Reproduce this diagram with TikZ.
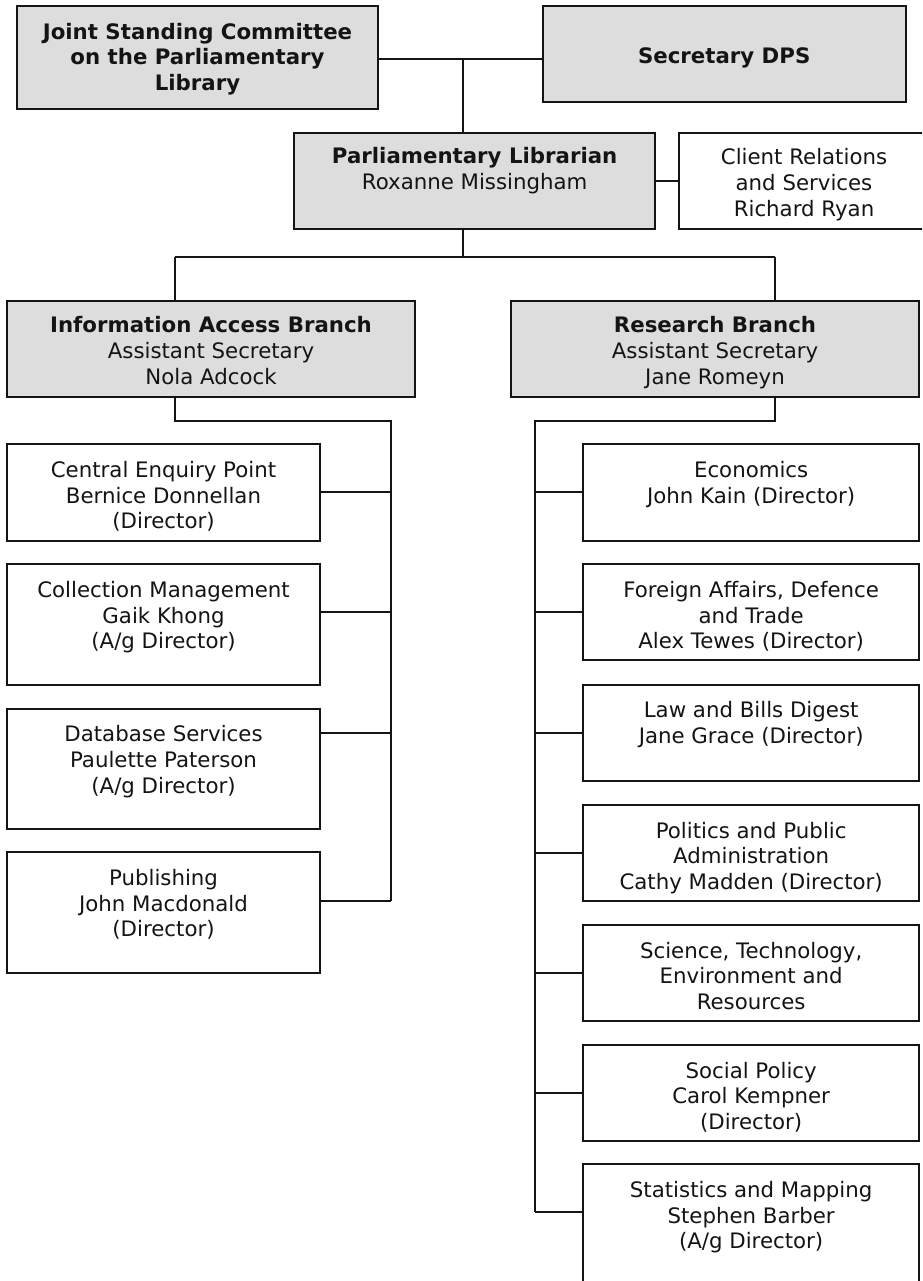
\documentclass[tikz,border=0pt]{standalone}
\usepackage{fontspec}
\setmainfont{DejaVu Sans}
\usetikzlibrary{calc}
\definecolor{boxfill}{RGB}{221,221,221}
\definecolor{ink}{RGB}{20,20,20}
\begin{document}
\begin{tikzpicture}[x=1pt,y=-1pt,
  box/.style={draw=ink, line width=2pt, inner sep=0pt, outer sep=0pt, rectangle},
  gbox/.style={box, fill=boxfill},
  wbox/.style={box, fill=white},
  txt/.style={anchor=base, align=center, inner sep=0pt, text=ink, font=\fontsize{21.3}{25.7}\selectfont},
  link/.style={draw=ink, line width=2pt}
]
\path[use as bounding box] (0,0) rectangle (922,1281);
\clip (0,0) rectangle (922,1281);

% ---- top level boxes
\node[gbox, minimum width=361pt, minimum height=102.7pt] (joint) at (197.5,57.35) {};
\node[gbox, minimum width=363pt, minimum height=95.7pt] (sec) at (724.2,53.85) {};
\node[gbox, minimum width=360.7pt, minimum height=96pt] (pl) at (474.65,180.7) {};
\node[wbox, minimum width=250pt, minimum height=96pt] (client) at (804,180.7) {};
\node[gbox, minimum width=408pt, minimum height=96pt] (info) at (211,348.7) {};
\node[gbox, minimum width=408.6pt, minimum height=96pt] (res) at (715,348.7) {};

% ---- left column
\node[wbox, minimum width=313pt, minimum height=96.7pt] (cep) at (163.5,492.35) {};
\node[wbox, minimum width=313pt, minimum height=120.4pt] (col) at (163.5,624.5) {};
\node[wbox, minimum width=313pt, minimum height=120pt] (db) at (163.5,768.7) {};
\node[wbox, minimum width=313pt, minimum height=120.4pt] (pub) at (163.5,912.5) {};

% ---- right column
\node[wbox, minimum width=336.3pt, minimum height=96.7pt] (econ) at (751.15,492.35) {};
\node[wbox, minimum width=336.3pt, minimum height=96pt] (fa) at (751.15,612.3) {};
\node[wbox, minimum width=336.3pt, minimum height=96pt] (law) at (751.15,732.5) {};
\node[wbox, minimum width=336.3pt, minimum height=96pt] (pol) at (751.15,852.85) {};
\node[wbox, minimum width=336.3pt, minimum height=96pt] (sci) at (751.15,972.85) {};
\node[wbox, minimum width=336.3pt, minimum height=96pt] (soc) at (751.15,1092.85) {};
\node[wbox, minimum width=336.3pt, minimum height=120pt] (stat) at (751.15,1224.3) {};

% ---- texts (anchor = baseline of the last line)
\node[txt] (joint-t) at (197.5,90.7) {\textbf{Joint Standing Committee}\\\textbf{on the Parliamentary}\\\textbf{Library}};
\node[txt] (sec-t) at (724.2,63.3) {\textbf{Secretary DPS}};
\node[txt] (pl-t) at (474.65,189.7) {\textbf{Parliamentary Librarian}\\Roxanne Missingham};
\node[txt] (client-t) at (804,216.4) {Client Relations\\and Services\\Richard Ryan};
\node[txt] (info-t) at (211,384.1) {\textbf{Information Access Branch}\\Assistant Secretary\\Nola Adcock};
\node[txt] (res-t) at (715,384.1) {\textbf{Research Branch}\\Assistant Secretary\\Jane Romeyn};
\node[txt] (cep-t) at (163.5,528.7) {Central Enquiry Point\\Bernice Donnellan\\(Director)};
\node[txt] (col-t) at (163.5,648.7) {Collection Management\\Gaik Khong\\(A/g Director)};
\node[txt] (db-t) at (163.5,793.1) {Database Services\\Paulette Paterson\\(A/g Director)};
\node[txt] (pub-t) at (163.5,936.7) {Publishing\\John Macdonald\\(Director)};
\node[txt] (econ-t) at (751.15,503) {Economics\\John Kain (Director)};
\node[txt] (fa-t) at (751.15,648.7) {Foreign Affairs, Defence\\and Trade\\Alex Tewes (Director)};
\node[txt] (law-t) at (751.15,743.4) {Law and Bills Digest\\Jane Grace (Director)};
\node[txt] (pol-t) at (751.15,889.4) {Politics and Public\\Administration\\Cathy Madden (Director)};
\node[txt] (sci-t) at (751.15,1009.4) {Science, Technology,\\Environment and\\Resources};
\node[txt] (soc-t) at (751.15,1129.4) {Social Policy\\Carol Kempner\\(Director)};
\node[txt] (stat-t) at (751.15,1248.7) {Statistics and Mapping\\Stephen Barber\\(A/g Director)};

% ---- junction coordinates
\coordinate (j1) at (463.3,58.7);
\coordinate (pb) at (463.3,256.7);
\coordinate (ib) at (175,256.7);
\coordinate (rb) at (775,256.7);
\coordinate (ib2) at (175,420.7);
\coordinate (lvtop) at (390.5,420.7);
\coordinate (lvbot) at (390.5,900.7);
\coordinate (rb2) at (775,420.7);
\coordinate (rvtop) at (535,420.7);
\coordinate (rvbot) at (535,1212.3);

% ---- connectors
\draw[link] (joint.east |- j1) -- (sec.west |- j1);
\draw[link] (j1) -- (j1 |- pl.north);
\draw[link] (pl.east) -- (client.west);
\draw[link] (pb |- pl.south) -- (pb);
\draw[link] (ib) -- (rb);
\draw[link] (ib) -- (ib |- info.north);
\draw[link] (rb) -- (rb |- res.north);

\draw[link] (ib2 |- info.south) -- (ib2) -- (lvtop) -- (lvbot);
\draw[link] (cep.east) -- (cep.east -| lvtop);
\draw[link] ($(col.north east)+(0,48)$) coordinate (c1) -- (c1 -| lvtop);
\draw[link] ($(db.north east)+(0,24)$) coordinate (c2) -- (c2 -| lvtop);
\draw[link] ($(pub.north east)+(0,48.4)$) coordinate (c3) -- (c3 -| lvtop);

\draw[link] (rb2 |- res.south) -- (rb2) -- (rvtop) -- (rvbot);
\draw[link] (econ.west) -- (econ.west -| rvtop);
\draw[link] (fa.west) -- (fa.west -| rvtop);
\draw[link] (law.west) -- (law.west -| rvtop);
\draw[link] (pol.west) -- (pol.west -| rvtop);
\draw[link] (sci.west) -- (sci.west -| rvtop);
\draw[link] (soc.west) -- (soc.west -| rvtop);
\draw[link] ($(stat.north west)+(0,48)$) coordinate (c4) -- (c4 -| rvtop);
\end{tikzpicture}
\end{document}
